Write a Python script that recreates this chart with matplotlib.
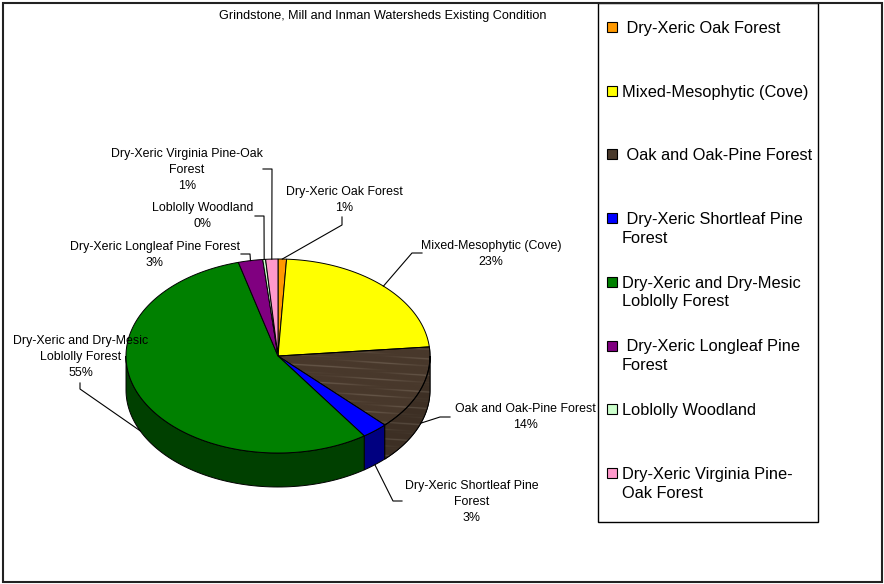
#!/usr/bin/env python3
"""3-d style pie of existing forest condition for the watersheds"""

import numpy as np
import matplotlib
matplotlib.use("Agg")
import matplotlib.pyplot as plt
from matplotlib.patches import Polygon, Rectangle

plt.rcParams["font.family"] = ["Liberation Sans", "DejaVu Sans"]

TITLE = "Grindstone, Mill and Inman Watersheds Existing Condition"

# forest types, clockwise from 12 o'clock
categories = [
    "Dry-Xeric Oak Forest",
    "Mixed-Mesophytic (Cove)",
    "Oak and Oak-Pine Forest",
    "Dry-Xeric Shortleaf Pine Forest",
    "Dry-Xeric and Dry-Mesic Loblolly Forest",
    "Dry-Xeric Longleaf Pine Forest",
    "Loblolly Woodland",
    "Dry-Xeric Virginia Pine-Oak Forest",
]
shares = [0.9, 22.6, 14.1, 2.8, 55.4, 2.6, 0.3, 1.3]

slice_labels = [
    "Dry-Xeric Oak Forest",
    "Mixed-Mesophytic (Cove)",
    "Oak and Oak-Pine Forest",
    "Dry-Xeric Shortleaf Pine\nForest",
    "Dry-Xeric and Dry-Mesic\nLoblolly Forest",
    "Dry-Xeric Longleaf Pine Forest",
    "Loblolly Woodland",
    "Dry-Xeric Virginia Pine-Oak\nForest",
]
legend_labels = [
    " Dry-Xeric Oak Forest",
    "Mixed-Mesophytic (Cove)",
    " Oak and Oak-Pine Forest",
    " Dry-Xeric Shortleaf Pine\nForest",
    "Dry-Xeric and Dry-Mesic\nLoblolly Forest",
    " Dry-Xeric Longleaf Pine\nForest",
    "Loblolly Woodland",
    "Dry-Xeric Virginia Pine-\nOak Forest",
]

top_colors = ["#FF9900", "#FFFF00", "#4a3a2c", "#0000FF",
              "#008000", "#800080", "#CCFFCC", "#FF99CC"]
side_colors = ["#804c00", "#808000", "#3b2e22", "#000080",
               "#004000", "#400040", "#668066", "#804c66"]

# label block centres, then (start, elbow) of each leader line
label_pos = [(344, 200), (491, 254), (525, 417), (472, 502),
             (81, 357), (155, 255), (203, 216), (187, 170)]
leader_stub = [((342, 217), (342, 225)), ((422, 253), (412, 253)),
               ((450, 417), (440, 417)), ((402, 501), (393, 501)),
               ((80, 383), (80, 389)), ((241, 254), (250, 254)),
               ((255, 216), (264, 216)), ((263, 169), (272, 169))]

# pie geometry in pixel space
CX, CY, RX, RY, DEPTH = 278, 356, 152, 97, 34


def rim(theta):
    t = np.radians(theta)
    return CX + RX * np.sin(t), CY - RY * np.cos(t)


def wood_image(ax, clip_poly, shade):
    """fill a polygon with a fine wood grain."""
    x0, x1 = CX - RX - 2, CX + RX + 2
    y0, y1 = CY - RY - 2, CY + RY + DEPTH + 2
    xs = np.linspace(x0, x1, 500)
    ys = np.linspace(y0, y1, 400)
    X, Y = np.meshgrid(xs, ys)
    g1 = np.sin(Y * 0.75 - X * 0.05 + 0.9 * np.sin(X * 0.025))
    g2 = np.sin(Y * 1.9 - X * 0.11 + 1.3)
    grain = np.clip(0.65 * g1 + 0.35 * g2, 0, 1) ** 4
    dark = np.array([0x48, 0x38, 0x2b]) / 255.0 * shade
    light = np.array([0x72, 0x63, 0x55]) / 255.0 * shade
    rgb = dark + (light - dark) * grain[..., None]
    im = ax.imshow(rgb, extent=(x0, x1, y1, y0), origin="upper",
                   aspect="auto", interpolation="bilinear", zorder=2)
    im.set_clip_path(clip_poly)


fig = plt.figure(figsize=(8.84, 5.84), dpi=100)
ax = fig.add_axes([0, 0, 1, 1])
ax.set_xlim(0, 884)
ax.set_ylim(584, 0)
ax.axis("off")

bounds = np.concatenate([[0], np.cumsum(shares)]) * 3.6

# side walls of the front half
for i, (a0, a1) in enumerate(zip(bounds[:-1], bounds[1:])):
    lo, hi = max(a0, 90), min(a1, 270)
    if lo >= hi:
        continue
    tx, ty = rim(np.linspace(lo, hi, 80))
    pts = np.column_stack([np.concatenate([tx, tx[::-1]]),
                           np.concatenate([ty, ty[::-1] + DEPTH])])
    poly = Polygon(pts, closed=True, facecolor=side_colors[i],
                   edgecolor="black", lw=0.7, zorder=1)
    ax.add_patch(poly)
    if i == 2:
        wood_image(ax, poly, 0.85)
        ax.add_patch(Polygon(pts, closed=True, fill=False,
                             edgecolor="black", lw=0.7, zorder=3))

# top faces
for i, (a0, a1) in enumerate(zip(bounds[:-1], bounds[1:])):
    tx, ty = rim(np.linspace(a0, a1, max(3, int(a1 - a0) * 2)))
    pts = np.column_stack([np.concatenate([[CX], tx]),
                           np.concatenate([[CY], ty])])
    poly = Polygon(pts, closed=True, facecolor=top_colors[i],
                   edgecolor="black", lw=0.7, zorder=4)
    ax.add_patch(poly)
    if i == 2:
        poly.set_zorder(1)
        wood_image(ax, poly, 1.0)
        ax.add_patch(Polygon(pts, closed=True, fill=False,
                             edgecolor="black", lw=0.7, zorder=4))

# data labels with leader lines
for i, (a0, a1) in enumerate(zip(bounds[:-1], bounds[1:])):
    mid = (a0 + a1) / 2
    ax_, ay_ = rim(mid)
    if 90 < mid < 270:
        ay_ += DEPTH
    (sx, sy), (ex, ey) = leader_stub[i]
    ax.plot([sx, ex, ax_], [sy, ey, ay_], color="black", lw=0.8, zorder=5)
    lx, ly = label_pos[i]
    ax.text(lx, ly, f"{slice_labels[i]}\n{round(shares[i]):.0f}%",
            ha="center", va="center", fontsize=8.9, linespacing=1.4,
            zorder=6)

ax.text(383, 16, TITLE, ha="center", va="center", fontsize=9.1)

# legend
ax.add_patch(Rectangle((598, 3), 220, 519, facecolor="white",
                       edgecolor="black", lw=1.0, zorder=7))
for i, lab in enumerate(legend_labels):
    y = 27 + i * 63.7
    ax.add_patch(Rectangle((607, y - 5), 10, 10, facecolor=top_colors[i],
                           edgecolor="black", lw=0.8, zorder=8))
    ax.text(622, y - 6, lab, ha="left", va="top", fontsize=11.8,
            linespacing=1.3, zorder=8)

# outer chart frame
ax.add_patch(Rectangle((3, 3), 879, 579, fill=False, edgecolor="#222222",
                       lw=1.5, zorder=9))

fig.savefig("out.png", dpi=100)
